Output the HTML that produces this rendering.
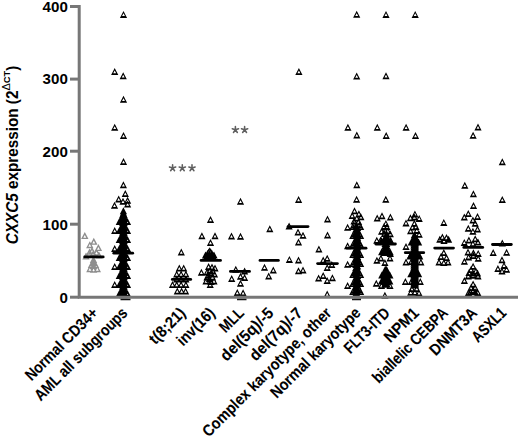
<!DOCTYPE html>
<html><head><meta charset="utf-8"><style>
html,body{margin:0;padding:0;background:#fff;}
body{width:520px;height:436px;overflow:hidden;}
svg{display:block;}
</style></head><body>
<svg width="520" height="436" viewBox="0 0 520 436">
<path fill="#8e8e8e" d="M84.80 232.00L81.10 239.00L88.50 239.00ZM84.80 234.89L86.26 237.65L83.34 237.65ZM93.80 237.80L90.10 244.80L97.50 244.80ZM93.80 240.69L95.26 243.45L92.34 243.45ZM89.80 241.20L86.10 248.20L93.50 248.20ZM89.80 244.09L91.26 246.85L88.34 246.85ZM98.40 244.00L94.70 251.00L102.10 251.00ZM98.40 246.89L99.86 249.65L96.94 249.65ZM92.00 247.00L88.30 254.00L95.70 254.00ZM92.00 249.89L93.46 252.65L90.54 252.65ZM89.50 248.50L85.80 255.50L93.20 255.50ZM89.50 251.39L90.96 254.15L88.04 254.15ZM96.50 248.50L92.80 255.50L100.20 255.50ZM96.50 251.39L97.96 254.15L95.04 254.15ZM93.50 249.50L89.80 256.50L97.20 256.50ZM93.50 252.39L94.96 255.15L92.04 255.15ZM86.00 252.50L82.30 259.50L89.70 259.50ZM86.00 255.39L87.46 258.15L84.54 258.15ZM99.00 251.50L95.30 258.50L102.70 258.50ZM99.00 254.39L100.46 257.15L97.54 257.15ZM93.50 256.00L89.80 263.00L97.20 263.00ZM93.50 258.89L94.96 261.65L92.04 261.65ZM93.50 259.00L89.80 266.00L97.20 266.00ZM93.50 261.89L94.96 264.65L92.04 264.65ZM93.50 262.00L89.80 269.00L97.20 269.00ZM93.50 264.89L94.96 267.65L92.04 267.65ZM91.50 261.00L87.80 268.00L95.20 268.00ZM91.50 263.89L92.96 266.65L90.04 266.65ZM95.50 261.00L91.80 268.00L99.20 268.00ZM95.50 263.89L96.96 266.65L94.04 266.65ZM89.90 265.20L86.20 272.20L93.60 272.20ZM89.90 268.09L91.36 270.85L88.44 270.85ZM97.30 265.20L93.60 272.20L101.00 272.20ZM97.30 268.09L98.76 270.85L95.84 270.85ZM93.60 265.70L89.90 272.70L97.30 272.70ZM93.60 268.59L95.06 271.35L92.14 271.35Z"/>
<path fill="#000" d="M123.40 207.20L119.80 214.20L127.00 214.20ZM123.40 209.20L119.80 216.20L127.00 216.20ZM123.40 211.20L119.80 218.20L127.00 218.20ZM122.60 211.20L119.00 218.20L126.20 218.20ZM124.20 211.20L120.60 218.20L127.80 218.20ZM123.40 213.20L119.80 220.20L127.00 220.20ZM122.60 213.20L119.00 220.20L126.20 220.20ZM124.20 213.20L120.60 220.20L127.80 220.20ZM123.40 215.20L119.80 222.20L127.00 222.20ZM122.60 215.20L119.00 222.20L126.20 222.20ZM124.20 215.20L120.60 222.20L127.80 222.20ZM123.40 217.20L119.80 224.20L127.00 224.20ZM122.60 217.20L119.00 224.20L126.20 224.20ZM124.20 217.20L120.60 224.20L127.80 224.20ZM123.40 219.20L119.80 226.20L127.00 226.20ZM122.60 219.20L119.00 226.20L126.20 226.20ZM124.20 219.20L120.60 226.20L127.80 226.20ZM123.40 221.20L119.80 228.20L127.00 228.20ZM122.60 221.20L119.00 228.20L126.20 228.20ZM124.20 221.20L120.60 228.20L127.80 228.20ZM123.40 223.20L119.80 230.20L127.00 230.20ZM122.60 223.20L119.00 230.20L126.20 230.20ZM124.20 223.20L120.60 230.20L127.80 230.20ZM123.40 225.20L119.80 232.20L127.00 232.20ZM122.60 225.20L119.00 232.20L126.20 232.20ZM124.20 225.20L120.60 232.20L127.80 232.20ZM123.40 227.20L119.80 234.20L127.00 234.20ZM122.60 227.20L119.00 234.20L126.20 234.20ZM124.20 227.20L120.60 234.20L127.80 234.20ZM123.40 229.20L119.80 236.20L127.00 236.20ZM122.60 229.20L119.00 236.20L126.20 236.20ZM124.20 229.20L120.60 236.20L127.80 236.20ZM123.40 231.20L119.80 238.20L127.00 238.20ZM122.60 231.20L119.00 238.20L126.20 238.20ZM124.20 231.20L120.60 238.20L127.80 238.20ZM123.40 233.20L119.80 240.20L127.00 240.20ZM122.60 233.20L119.00 240.20L126.20 240.20ZM124.20 233.20L120.60 240.20L127.80 240.20ZM123.40 235.20L119.80 242.20L127.00 242.20ZM122.60 235.20L119.00 242.20L126.20 242.20ZM124.20 235.20L120.60 242.20L127.80 242.20ZM123.40 237.20L119.80 244.20L127.00 244.20ZM122.60 237.20L119.00 244.20L126.20 244.20ZM124.20 237.20L120.60 244.20L127.80 244.20ZM123.40 239.20L119.80 246.20L127.00 246.20ZM122.60 239.20L119.00 246.20L126.20 246.20ZM124.20 239.20L120.60 246.20L127.80 246.20ZM123.40 241.20L119.80 248.20L127.00 248.20ZM122.60 241.20L119.00 248.20L126.20 248.20ZM124.20 241.20L120.60 248.20L127.80 248.20ZM123.40 243.20L119.80 250.20L127.00 250.20ZM122.60 243.20L119.00 250.20L126.20 250.20ZM124.20 243.20L120.60 250.20L127.80 250.20ZM123.40 245.20L119.80 252.20L127.00 252.20ZM122.60 245.20L119.00 252.20L126.20 252.20ZM124.20 245.20L120.60 252.20L127.80 252.20ZM123.40 247.20L119.80 254.20L127.00 254.20ZM122.60 247.20L119.00 254.20L126.20 254.20ZM124.20 247.20L120.60 254.20L127.80 254.20ZM123.40 249.20L119.80 256.20L127.00 256.20ZM122.60 249.20L119.00 256.20L126.20 256.20ZM124.20 249.20L120.60 256.20L127.80 256.20ZM123.40 251.20L119.80 258.20L127.00 258.20ZM122.60 251.20L119.00 258.20L126.20 258.20ZM124.20 251.20L120.60 258.20L127.80 258.20ZM123.40 253.20L119.80 260.20L127.00 260.20ZM122.60 253.20L119.00 260.20L126.20 260.20ZM124.20 253.20L120.60 260.20L127.80 260.20ZM123.40 255.20L119.80 262.20L127.00 262.20ZM122.60 255.20L119.00 262.20L126.20 262.20ZM124.20 255.20L120.60 262.20L127.80 262.20ZM123.40 257.20L119.80 264.20L127.00 264.20ZM122.60 257.20L119.00 264.20L126.20 264.20ZM124.20 257.20L120.60 264.20L127.80 264.20ZM123.40 259.20L119.80 266.20L127.00 266.20ZM122.60 259.20L119.00 266.20L126.20 266.20ZM124.20 259.20L120.60 266.20L127.80 266.20ZM123.40 261.20L119.80 268.20L127.00 268.20ZM122.60 261.20L119.00 268.20L126.20 268.20ZM124.20 261.20L120.60 268.20L127.80 268.20ZM123.40 263.20L119.80 270.20L127.00 270.20ZM122.60 263.20L119.00 270.20L126.20 270.20ZM124.20 263.20L120.60 270.20L127.80 270.20ZM123.40 265.20L119.80 272.20L127.00 272.20ZM122.60 265.20L119.00 272.20L126.20 272.20ZM124.20 265.20L120.60 272.20L127.80 272.20ZM123.40 267.20L119.80 274.20L127.00 274.20ZM122.60 267.20L119.00 274.20L126.20 274.20ZM124.20 267.20L120.60 274.20L127.80 274.20ZM123.40 269.20L119.80 276.20L127.00 276.20ZM122.60 269.20L119.00 276.20L126.20 276.20ZM124.20 269.20L120.60 276.20L127.80 276.20ZM123.40 271.20L119.80 278.20L127.00 278.20ZM122.60 271.20L119.00 278.20L126.20 278.20ZM124.20 271.20L120.60 278.20L127.80 278.20ZM123.40 273.20L119.80 280.20L127.00 280.20ZM122.60 273.20L119.00 280.20L126.20 280.20ZM124.20 273.20L120.60 280.20L127.80 280.20ZM123.40 275.20L119.80 282.20L127.00 282.20ZM122.60 275.20L119.00 282.20L126.20 282.20ZM124.20 275.20L120.60 282.20L127.80 282.20ZM123.40 277.20L119.80 284.20L127.00 284.20ZM122.60 277.20L119.00 284.20L126.20 284.20ZM124.20 277.20L120.60 284.20L127.80 284.20ZM123.40 279.20L119.80 286.20L127.00 286.20ZM122.60 279.20L119.00 286.20L126.20 286.20ZM124.20 279.20L120.60 286.20L127.80 286.20ZM123.40 281.20L119.80 288.20L127.00 288.20ZM122.60 281.20L119.00 288.20L126.20 288.20ZM124.20 281.20L120.60 288.20L127.80 288.20ZM123.40 283.20L119.80 290.20L127.00 290.20ZM122.60 283.20L119.00 290.20L126.20 290.20ZM124.20 283.20L120.60 290.20L127.80 290.20ZM123.40 285.20L119.80 292.20L127.00 292.20ZM122.60 285.20L119.00 292.20L126.20 292.20ZM124.20 285.20L120.60 292.20L127.80 292.20ZM123.40 287.20L119.80 294.20L127.00 294.20ZM122.60 287.20L119.00 294.20L126.20 294.20ZM124.20 287.20L120.60 294.20L127.80 294.20ZM123.40 289.20L119.80 296.20L127.00 296.20ZM122.60 289.20L119.00 296.20L126.20 296.20ZM124.20 289.20L120.60 296.20L127.80 296.20ZM123.40 291.20L119.80 298.20L127.00 298.20ZM122.60 291.20L119.00 298.20L126.20 298.20ZM124.20 291.20L120.60 298.20L127.80 298.20ZM119.30 218.00L115.70 225.00L122.90 225.00ZM119.30 227.00L115.70 234.00L122.90 234.00ZM119.30 236.00L115.70 243.00L122.90 243.00ZM119.30 245.00L115.70 252.00L122.90 252.00ZM119.30 254.00L115.70 261.00L122.90 261.00ZM119.30 263.00L115.70 270.00L122.90 270.00ZM119.30 272.00L115.70 279.00L122.90 279.00ZM119.30 281.00L115.70 288.00L122.90 288.00ZM119.30 290.00L115.70 297.00L122.90 297.00ZM385.90 234.00L382.30 241.00L389.50 241.00ZM385.10 234.00L381.50 241.00L388.70 241.00ZM386.70 234.00L383.10 241.00L390.30 241.00ZM385.90 236.00L382.30 243.00L389.50 243.00ZM385.10 236.00L381.50 243.00L388.70 243.00ZM386.70 236.00L383.10 243.00L390.30 243.00ZM385.90 238.00L382.30 245.00L389.50 245.00ZM385.10 238.00L381.50 245.00L388.70 245.00ZM386.70 238.00L383.10 245.00L390.30 245.00ZM385.90 240.00L382.30 247.00L389.50 247.00ZM385.10 240.00L381.50 247.00L388.70 247.00ZM386.70 240.00L383.10 247.00L390.30 247.00ZM385.90 242.00L382.30 249.00L389.50 249.00ZM385.10 242.00L381.50 249.00L388.70 249.00ZM386.70 242.00L383.10 249.00L390.30 249.00ZM385.90 244.00L382.30 251.00L389.50 251.00ZM385.10 244.00L381.50 251.00L388.70 251.00ZM386.70 244.00L383.10 251.00L390.30 251.00ZM385.90 246.00L382.30 253.00L389.50 253.00ZM385.10 246.00L381.50 253.00L388.70 253.00ZM386.70 246.00L383.10 253.00L390.30 253.00ZM385.90 248.00L382.30 255.00L389.50 255.00ZM385.10 248.00L381.50 255.00L388.70 255.00ZM386.70 248.00L383.10 255.00L390.30 255.00ZM385.90 266.00L382.30 273.00L389.50 273.00ZM385.10 266.00L381.50 273.00L388.70 273.00ZM386.70 266.00L383.10 273.00L390.30 273.00ZM385.90 268.00L382.30 275.00L389.50 275.00ZM385.10 268.00L381.50 275.00L388.70 275.00ZM386.70 268.00L383.10 275.00L390.30 275.00ZM385.90 270.00L382.30 277.00L389.50 277.00ZM385.10 270.00L381.50 277.00L388.70 277.00ZM386.70 270.00L383.10 277.00L390.30 277.00ZM385.90 272.00L382.30 279.00L389.50 279.00ZM385.10 272.00L381.50 279.00L388.70 279.00ZM386.70 272.00L383.10 279.00L390.30 279.00ZM385.90 274.00L382.30 281.00L389.50 281.00ZM385.10 274.00L381.50 281.00L388.70 281.00ZM386.70 274.00L383.10 281.00L390.30 281.00ZM385.90 276.00L382.30 283.00L389.50 283.00ZM385.10 276.00L381.50 283.00L388.70 283.00ZM386.70 276.00L383.10 283.00L390.30 283.00ZM385.90 278.00L382.30 285.00L389.50 285.00ZM385.10 278.00L381.50 285.00L388.70 285.00ZM386.70 278.00L383.10 285.00L390.30 285.00ZM385.90 280.00L382.30 287.00L389.50 287.00ZM385.10 280.00L381.50 287.00L388.70 287.00ZM386.70 280.00L383.10 287.00L390.30 287.00ZM381.50 237.00L377.90 244.00L385.10 244.00ZM390.20 237.00L386.60 244.00L393.80 244.00ZM381.70 248.20L378.10 255.20L385.30 255.20ZM390.10 248.20L386.50 255.20L393.70 255.20ZM381.80 271.60L378.20 278.60L385.40 278.60ZM389.90 271.60L386.30 278.60L393.50 278.60ZM381.50 277.50L377.90 284.50L385.10 284.50ZM389.80 277.50L386.20 284.50L393.40 284.50ZM414.70 233.50L411.10 240.50L418.30 240.50ZM413.90 233.50L410.30 240.50L417.50 240.50ZM415.50 233.50L411.90 240.50L419.10 240.50ZM414.70 235.50L411.10 242.50L418.30 242.50ZM413.90 235.50L410.30 242.50L417.50 242.50ZM415.50 235.50L411.90 242.50L419.10 242.50ZM414.70 237.50L411.10 244.50L418.30 244.50ZM413.90 237.50L410.30 244.50L417.50 244.50ZM415.50 237.50L411.90 244.50L419.10 244.50ZM414.70 239.50L411.10 246.50L418.30 246.50ZM413.90 239.50L410.30 246.50L417.50 246.50ZM415.50 239.50L411.90 246.50L419.10 246.50ZM414.70 241.50L411.10 248.50L418.30 248.50ZM413.90 241.50L410.30 248.50L417.50 248.50ZM415.50 241.50L411.90 248.50L419.10 248.50ZM414.70 243.50L411.10 250.50L418.30 250.50ZM413.90 243.50L410.30 250.50L417.50 250.50ZM415.50 243.50L411.90 250.50L419.10 250.50ZM414.70 245.50L411.10 252.50L418.30 252.50ZM413.90 245.50L410.30 252.50L417.50 252.50ZM415.50 245.50L411.90 252.50L419.10 252.50ZM414.70 247.50L411.10 254.50L418.30 254.50ZM413.90 247.50L410.30 254.50L417.50 254.50ZM415.50 247.50L411.90 254.50L419.10 254.50ZM414.70 249.50L411.10 256.50L418.30 256.50ZM413.90 249.50L410.30 256.50L417.50 256.50ZM415.50 249.50L411.90 256.50L419.10 256.50ZM414.70 251.50L411.10 258.50L418.30 258.50ZM413.90 251.50L410.30 258.50L417.50 258.50ZM415.50 251.50L411.90 258.50L419.10 258.50ZM414.70 253.50L411.10 260.50L418.30 260.50ZM413.90 253.50L410.30 260.50L417.50 260.50ZM415.50 253.50L411.90 260.50L419.10 260.50ZM414.70 255.50L411.10 262.50L418.30 262.50ZM413.90 255.50L410.30 262.50L417.50 262.50ZM415.50 255.50L411.90 262.50L419.10 262.50ZM414.70 257.50L411.10 264.50L418.30 264.50ZM413.90 257.50L410.30 264.50L417.50 264.50ZM415.50 257.50L411.90 264.50L419.10 264.50ZM414.70 259.50L411.10 266.50L418.30 266.50ZM413.90 259.50L410.30 266.50L417.50 266.50ZM415.50 259.50L411.90 266.50L419.10 266.50ZM414.70 261.50L411.10 268.50L418.30 268.50ZM413.90 261.50L410.30 268.50L417.50 268.50ZM415.50 261.50L411.90 268.50L419.10 268.50ZM414.70 263.50L411.10 270.50L418.30 270.50ZM413.90 263.50L410.30 270.50L417.50 270.50ZM415.50 263.50L411.90 270.50L419.10 270.50ZM414.70 265.50L411.10 272.50L418.30 272.50ZM413.90 265.50L410.30 272.50L417.50 272.50ZM415.50 265.50L411.90 272.50L419.10 272.50ZM414.70 267.50L411.10 274.50L418.30 274.50ZM413.90 267.50L410.30 274.50L417.50 274.50ZM415.50 267.50L411.90 274.50L419.10 274.50ZM414.70 269.50L411.10 276.50L418.30 276.50ZM413.90 269.50L410.30 276.50L417.50 276.50ZM415.50 269.50L411.90 276.50L419.10 276.50ZM414.70 271.50L411.10 278.50L418.30 278.50ZM413.90 271.50L410.30 278.50L417.50 278.50ZM415.50 271.50L411.90 278.50L419.10 278.50ZM414.70 273.50L411.10 280.50L418.30 280.50ZM413.90 273.50L410.30 280.50L417.50 280.50ZM415.50 273.50L411.90 280.50L419.10 280.50ZM414.70 275.50L411.10 282.50L418.30 282.50ZM413.90 275.50L410.30 282.50L417.50 282.50ZM415.50 275.50L411.90 282.50L419.10 282.50ZM414.70 277.50L411.10 284.50L418.30 284.50ZM413.90 277.50L410.30 284.50L417.50 284.50ZM415.50 277.50L411.90 284.50L419.10 284.50ZM414.70 279.50L411.10 286.50L418.30 286.50ZM413.90 279.50L410.30 286.50L417.50 286.50ZM415.50 279.50L411.90 286.50L419.10 286.50ZM414.70 281.50L411.10 288.50L418.30 288.50ZM413.90 281.50L410.30 288.50L417.50 288.50ZM415.50 281.50L411.90 288.50L419.10 288.50ZM411.30 238.50L407.70 245.50L414.90 245.50ZM418.60 238.50L415.00 245.50L422.20 245.50ZM410.90 251.10L407.30 258.10L414.50 258.10ZM418.50 251.10L414.90 258.10L422.10 258.10ZM410.90 270.20L407.30 277.20L414.50 277.20ZM418.60 270.20L415.00 277.20L422.20 277.20Z"/>
<path fill="#000" d="M123.50 10.90L119.90 17.90L127.10 17.90ZM123.50 13.35L124.95 16.10L122.05 16.10ZM114.70 68.00L111.10 75.00L118.30 75.00ZM114.70 70.45L116.15 73.20L113.25 73.20ZM123.20 72.30L119.60 79.30L126.80 79.30ZM123.20 74.75L124.65 77.50L121.75 77.50ZM123.50 95.70L119.90 102.70L127.10 102.70ZM123.50 98.15L124.95 100.90L122.05 100.90ZM114.70 123.70L111.10 130.70L118.30 130.70ZM114.70 126.15L116.15 128.90L113.25 128.90ZM123.50 132.00L119.90 139.00L127.10 139.00ZM123.50 134.45L124.95 137.20L122.05 137.20ZM123.50 158.10L119.90 165.10L127.10 165.10ZM123.50 160.55L124.95 163.30L122.05 163.30ZM123.40 181.30L119.80 188.30L127.00 188.30ZM123.40 183.75L124.85 186.50L121.95 186.50ZM125.30 190.00L121.70 197.00L128.90 197.00ZM125.30 192.45L126.75 195.20L123.85 195.20ZM118.70 195.50L115.10 202.50L122.30 202.50ZM118.70 197.95L120.15 200.70L117.25 200.70ZM127.60 196.70L124.00 203.70L131.20 203.70ZM127.60 199.15L129.05 201.90L126.15 201.90ZM123.00 197.80L119.40 204.80L126.60 204.80ZM123.00 200.25L124.45 203.00L121.55 203.00ZM114.50 201.80L110.90 208.80L118.10 208.80ZM114.50 204.25L115.95 207.00L113.05 207.00ZM127.60 200.50L124.00 207.50L131.20 207.50ZM127.60 202.95L129.05 205.70L126.15 205.70ZM114.70 227.00L111.10 234.00L118.30 234.00ZM114.70 229.45L116.15 232.20L113.25 232.20ZM114.70 245.00L111.10 252.00L118.30 252.00ZM114.70 247.45L116.15 250.20L113.25 250.20ZM114.70 263.00L111.10 270.00L118.30 270.00ZM114.70 265.45L116.15 268.20L113.25 268.20ZM114.70 281.00L111.10 288.00L118.30 288.00ZM114.70 283.45L116.15 286.20L113.25 286.20ZM181.30 248.50L177.70 255.50L184.90 255.50ZM181.30 250.95L182.75 253.70L179.85 253.70ZM179.30 264.50L175.70 271.50L182.90 271.50ZM179.30 266.95L180.75 269.70L177.85 269.70ZM183.70 264.50L180.10 271.50L187.30 271.50ZM183.70 266.95L185.15 269.70L182.25 269.70ZM176.70 270.50L173.10 277.50L180.30 277.50ZM176.70 272.95L178.15 275.70L175.25 275.70ZM181.10 270.50L177.50 277.50L184.70 277.50ZM181.10 272.95L182.55 275.70L179.65 275.70ZM185.90 270.50L182.30 277.50L189.50 277.50ZM185.90 272.95L187.35 275.70L184.45 275.70ZM176.70 275.50L173.10 282.50L180.30 282.50ZM176.70 277.95L178.15 280.70L175.25 280.70ZM185.90 275.50L182.30 282.50L189.50 282.50ZM185.90 277.95L187.35 280.70L184.45 280.70ZM181.10 275.50L177.50 282.50L184.70 282.50ZM181.10 277.95L182.55 280.70L179.65 280.70ZM172.50 281.00L168.90 288.00L176.10 288.00ZM172.50 283.45L173.95 286.20L171.05 286.20ZM176.70 281.00L173.10 288.00L180.30 288.00ZM176.70 283.45L178.15 286.20L175.25 286.20ZM181.10 281.00L177.50 288.00L184.70 288.00ZM181.10 283.45L182.55 286.20L179.65 286.20ZM185.90 281.00L182.30 288.00L189.50 288.00ZM185.90 283.45L187.35 286.20L184.45 286.20ZM177.30 287.50L173.70 294.50L180.90 294.50ZM177.30 289.95L178.75 292.70L175.85 292.70ZM181.60 287.50L178.00 294.50L185.20 294.50ZM181.60 289.95L183.05 292.70L180.15 292.70ZM185.60 287.50L182.00 294.50L189.20 294.50ZM185.60 289.95L187.05 292.70L184.15 292.70ZM210.50 216.10L206.90 223.10L214.10 223.10ZM210.50 218.55L211.95 221.30L209.05 221.30ZM201.90 232.20L198.30 239.20L205.50 239.20ZM201.90 234.65L203.35 237.40L200.45 237.40ZM215.00 232.20L211.40 239.20L218.60 239.20ZM215.00 234.65L216.45 237.40L213.55 237.40ZM210.50 239.00L206.90 246.00L214.10 246.00ZM210.50 241.45L211.95 244.20L209.05 244.20ZM209.70 247.20L206.10 254.20L213.30 254.20ZM209.70 249.65L211.15 252.40L208.25 252.40ZM207.50 250.00L203.90 257.00L211.10 257.00ZM207.50 252.45L208.95 255.20L206.05 255.20ZM212.00 250.00L208.40 257.00L215.60 257.00ZM212.00 252.45L213.45 255.20L210.55 255.20ZM205.50 251.50L201.90 258.50L209.10 258.50ZM205.50 253.95L206.95 256.70L204.05 256.70ZM214.00 251.50L210.40 258.50L217.60 258.50ZM214.00 253.95L215.45 256.70L212.55 256.70ZM209.70 251.50L206.10 258.50L213.30 258.50ZM209.70 253.95L211.15 256.70L208.25 256.70ZM208.60 248.50L205.00 255.50L212.20 255.50ZM208.60 250.95L210.05 253.70L207.15 253.70ZM210.80 248.50L207.20 255.50L214.40 255.50ZM210.80 250.95L212.25 253.70L209.35 253.70ZM207.00 252.00L203.40 259.00L210.60 259.00ZM207.00 254.45L208.45 257.20L205.55 257.20ZM212.50 252.00L208.90 259.00L216.10 259.00ZM212.50 254.45L213.95 257.20L211.05 257.20ZM209.70 250.50L206.10 257.50L213.30 257.50ZM209.70 252.95L211.15 255.70L208.25 255.70ZM208.60 263.00L205.00 270.00L212.20 270.00ZM208.60 265.45L210.05 268.20L207.15 268.20ZM212.00 263.50L208.40 270.50L215.60 270.50ZM212.00 265.95L213.45 268.70L210.55 268.70ZM215.00 264.50L211.40 271.50L218.60 271.50ZM215.00 266.95L216.45 269.70L213.55 269.70ZM201.40 268.70L197.80 275.70L205.00 275.70ZM201.40 271.15L202.85 273.90L199.95 273.90ZM207.00 268.50L203.40 275.50L210.60 275.50ZM207.00 270.95L208.45 273.70L205.55 273.70ZM211.00 269.50L207.40 276.50L214.60 276.50ZM211.00 271.95L212.45 274.70L209.55 274.70ZM214.50 270.50L210.90 277.50L218.10 277.50ZM214.50 272.95L215.95 275.70L213.05 275.70ZM210.00 266.50L206.40 273.50L213.60 273.50ZM210.00 268.95L211.45 271.70L208.55 271.70ZM213.00 267.50L209.40 274.50L216.60 274.50ZM213.00 269.95L214.45 272.70L211.55 272.70ZM207.00 273.50L203.40 280.50L210.60 280.50ZM207.00 275.95L208.45 278.70L205.55 278.70ZM212.50 273.50L208.90 280.50L216.10 280.50ZM212.50 275.95L213.95 278.70L211.05 278.70ZM206.00 277.50L202.40 284.50L209.60 284.50ZM206.00 279.95L207.45 282.70L204.55 282.70ZM211.00 278.00L207.40 285.00L214.60 285.00ZM211.00 280.45L212.45 283.20L209.55 283.20ZM214.00 277.50L210.40 284.50L217.60 284.50ZM214.00 279.95L215.45 282.70L212.55 282.70ZM210.20 281.10L206.60 288.10L213.80 288.10ZM210.20 283.55L211.65 286.30L208.75 286.30ZM209.50 275.00L205.90 282.00L213.10 282.00ZM209.50 277.45L210.95 280.20L208.05 280.20ZM208.00 271.50L204.40 278.50L211.60 278.50ZM208.00 273.95L209.45 276.70L206.55 276.70ZM240.50 197.70L236.90 204.70L244.10 204.70ZM240.50 200.15L241.95 202.90L239.05 202.90ZM231.50 232.60L227.90 239.60L235.10 239.60ZM231.50 235.05L232.95 237.80L230.05 237.80ZM240.50 232.80L236.90 239.80L244.10 239.80ZM240.50 235.25L241.95 238.00L239.05 238.00ZM235.80 265.80L232.20 272.80L239.40 272.80ZM235.80 268.25L237.25 271.00L234.35 271.00ZM244.60 267.40L241.00 274.40L248.20 274.40ZM244.60 269.85L246.05 272.60L243.15 272.60ZM240.50 272.80L236.90 279.80L244.10 279.80ZM240.50 275.25L241.95 278.00L239.05 278.00ZM244.60 274.00L241.00 281.00L248.20 281.00ZM244.60 276.45L246.05 279.20L243.15 279.20ZM231.70 275.00L228.10 282.00L235.30 282.00ZM231.70 277.45L233.15 280.20L230.25 280.20ZM240.50 279.70L236.90 286.70L244.10 286.70ZM240.50 282.15L241.95 284.90L239.05 284.90ZM237.30 289.00L233.70 296.00L240.90 296.00ZM237.30 291.45L238.75 294.20L235.85 294.20ZM243.10 289.30L239.50 296.30L246.70 296.30ZM243.10 291.75L244.55 294.50L241.65 294.50ZM269.80 225.20L266.20 232.20L273.40 232.20ZM269.80 227.65L271.25 230.40L268.35 230.40ZM264.50 263.70L260.90 270.70L268.10 270.70ZM264.50 266.15L265.95 268.90L263.05 268.90ZM273.30 266.50L269.70 273.50L276.90 273.50ZM273.30 268.95L274.75 271.70L271.85 271.70ZM268.70 272.50L265.10 279.50L272.30 279.50ZM268.70 274.95L270.15 277.70L267.25 277.70ZM298.90 68.00L295.30 75.00L302.50 75.00ZM298.90 70.45L300.35 73.20L297.45 73.20ZM298.60 196.00L295.00 203.00L302.20 203.00ZM298.60 198.45L300.05 201.20L297.15 201.20ZM289.10 222.60L285.50 229.60L292.70 229.60ZM289.10 225.05L290.55 227.80L287.65 227.80ZM298.00 228.50L294.40 235.50L301.60 235.50ZM298.00 230.95L299.45 233.70L296.55 233.70ZM303.00 231.80L299.40 238.80L306.60 238.80ZM303.00 234.25L304.45 237.00L301.55 237.00ZM298.50 238.50L294.90 245.50L302.10 245.50ZM298.50 240.95L299.95 243.70L297.05 243.70ZM289.40 255.90L285.80 262.90L293.00 262.90ZM289.40 258.35L290.85 261.10L287.95 261.10ZM298.50 256.50L294.90 263.50L302.10 263.50ZM298.50 258.95L299.95 261.70L297.05 261.70ZM298.50 267.30L294.90 274.30L302.10 274.30ZM298.50 269.75L299.95 272.50L297.05 272.50ZM303.00 266.50L299.40 273.50L306.60 273.50ZM303.00 268.95L304.45 271.70L301.55 271.70ZM327.50 215.60L323.90 222.60L331.10 222.60ZM327.50 218.05L328.95 220.80L326.05 220.80ZM327.50 231.50L323.90 238.50L331.10 238.50ZM327.50 233.95L328.95 236.70L326.05 236.70ZM318.90 245.50L315.30 252.50L322.50 252.50ZM318.90 247.95L320.35 250.70L317.45 250.70ZM323.20 256.50L319.60 263.50L326.80 263.50ZM323.20 258.95L324.65 261.70L321.75 261.70ZM327.20 254.80L323.60 261.80L330.80 261.80ZM327.20 257.25L328.65 260.00L325.75 260.00ZM331.80 261.00L328.20 268.00L335.40 268.00ZM331.80 263.45L333.25 266.20L330.35 266.20ZM327.20 264.00L323.60 271.00L330.80 271.00ZM327.20 266.45L328.65 269.20L325.75 269.20ZM323.20 272.00L319.60 279.00L326.80 279.00ZM323.20 274.45L324.65 277.20L321.75 277.20ZM318.60 274.50L315.00 281.50L322.20 281.50ZM318.60 276.95L320.05 279.70L317.15 279.70ZM327.20 277.00L323.60 284.00L330.80 284.00ZM327.20 279.45L328.65 282.20L325.75 282.20ZM332.40 274.30L328.80 281.30L336.00 281.30ZM332.40 276.75L333.85 279.50L330.95 279.50ZM327.20 290.50L323.60 297.50L330.80 297.50ZM327.20 292.95L328.65 295.70L325.75 295.70ZM356.70 10.70L353.10 17.70L360.30 17.70ZM356.70 13.15L358.15 15.90L355.25 15.90ZM356.70 72.60L353.10 79.60L360.30 79.60ZM356.70 75.05L358.15 77.80L355.25 77.80ZM347.90 123.70L344.30 130.70L351.50 130.70ZM347.90 126.15L349.35 128.90L346.45 128.90ZM356.80 131.50L353.20 138.50L360.40 138.50ZM356.80 133.95L358.25 136.70L355.35 136.70ZM356.80 181.20L353.20 188.20L360.40 188.20ZM356.80 183.65L358.25 186.40L355.35 186.40ZM356.60 195.70L353.00 202.70L360.20 202.70ZM356.60 198.15L358.05 200.90L355.15 200.90ZM354.50 207.30L350.90 214.30L358.10 214.30ZM354.50 209.75L355.95 212.50L353.05 212.50ZM358.90 210.30L355.30 217.30L362.50 217.30ZM358.90 212.75L360.35 215.50L357.45 215.50ZM352.20 212.00L348.60 219.00L355.80 219.00ZM352.20 214.45L353.65 217.20L350.75 217.20ZM360.90 213.30L357.30 220.30L364.50 220.30ZM360.90 215.75L362.35 218.50L359.45 218.50ZM356.80 214.50L353.20 221.50L360.40 221.50ZM356.80 216.95L358.25 219.70L355.35 219.70ZM354.00 217.50L350.40 224.50L357.60 224.50ZM354.00 219.95L355.45 222.70L352.55 222.70ZM358.60 218.00L355.00 225.00L362.20 225.00ZM358.60 220.45L360.05 223.20L357.15 223.20ZM355.80 222.50L352.20 229.50L359.40 229.50ZM355.80 224.95L357.25 227.70L354.35 227.70ZM357.60 224.10L354.00 231.10L361.20 231.10ZM357.60 226.55L359.05 229.30L356.15 229.30ZM355.80 225.70L352.20 232.70L359.40 232.70ZM355.80 228.15L357.25 230.90L354.35 230.90ZM357.60 227.30L354.00 234.30L361.20 234.30ZM357.60 229.75L359.05 232.50L356.15 232.50ZM355.80 228.90L352.20 235.90L359.40 235.90ZM355.80 231.35L357.25 234.10L354.35 234.10ZM357.60 230.50L354.00 237.50L361.20 237.50ZM357.60 232.95L359.05 235.70L356.15 235.70ZM355.80 232.10L352.20 239.10L359.40 239.10ZM355.80 234.55L357.25 237.30L354.35 237.30ZM357.60 233.70L354.00 240.70L361.20 240.70ZM357.60 236.15L359.05 238.90L356.15 238.90ZM355.80 235.30L352.20 242.30L359.40 242.30ZM355.80 237.75L357.25 240.50L354.35 240.50ZM357.60 236.90L354.00 243.90L361.20 243.90ZM357.60 239.35L359.05 242.10L356.15 242.10ZM355.80 238.50L352.20 245.50L359.40 245.50ZM355.80 240.95L357.25 243.70L354.35 243.70ZM357.60 240.10L354.00 247.10L361.20 247.10ZM357.60 242.55L359.05 245.30L356.15 245.30ZM355.80 241.70L352.20 248.70L359.40 248.70ZM355.80 244.15L357.25 246.90L354.35 246.90ZM357.60 243.30L354.00 250.30L361.20 250.30ZM357.60 245.75L359.05 248.50L356.15 248.50ZM355.80 244.90L352.20 251.90L359.40 251.90ZM355.80 247.35L357.25 250.10L354.35 250.10ZM357.60 246.50L354.00 253.50L361.20 253.50ZM357.60 248.95L359.05 251.70L356.15 251.70ZM355.80 248.10L352.20 255.10L359.40 255.10ZM355.80 250.55L357.25 253.30L354.35 253.30ZM357.60 249.70L354.00 256.70L361.20 256.70ZM357.60 252.15L359.05 254.90L356.15 254.90ZM355.80 251.30L352.20 258.30L359.40 258.30ZM355.80 253.75L357.25 256.50L354.35 256.50ZM357.60 252.90L354.00 259.90L361.20 259.90ZM357.60 255.35L359.05 258.10L356.15 258.10ZM355.80 254.50L352.20 261.50L359.40 261.50ZM355.80 256.95L357.25 259.70L354.35 259.70ZM357.60 256.10L354.00 263.10L361.20 263.10ZM357.60 258.55L359.05 261.30L356.15 261.30ZM355.80 257.70L352.20 264.70L359.40 264.70ZM355.80 260.15L357.25 262.90L354.35 262.90ZM357.60 259.30L354.00 266.30L361.20 266.30ZM357.60 261.75L359.05 264.50L356.15 264.50ZM355.80 260.90L352.20 267.90L359.40 267.90ZM355.80 263.35L357.25 266.10L354.35 266.10ZM357.60 262.50L354.00 269.50L361.20 269.50ZM357.60 264.95L359.05 267.70L356.15 267.70ZM355.80 264.10L352.20 271.10L359.40 271.10ZM355.80 266.55L357.25 269.30L354.35 269.30ZM357.60 265.70L354.00 272.70L361.20 272.70ZM357.60 268.15L359.05 270.90L356.15 270.90ZM355.80 267.30L352.20 274.30L359.40 274.30ZM355.80 269.75L357.25 272.50L354.35 272.50ZM357.60 268.90L354.00 275.90L361.20 275.90ZM357.60 271.35L359.05 274.10L356.15 274.10ZM355.80 270.50L352.20 277.50L359.40 277.50ZM355.80 272.95L357.25 275.70L354.35 275.70ZM357.60 272.10L354.00 279.10L361.20 279.10ZM357.60 274.55L359.05 277.30L356.15 277.30ZM355.80 273.70L352.20 280.70L359.40 280.70ZM355.80 276.15L357.25 278.90L354.35 278.90ZM357.60 275.30L354.00 282.30L361.20 282.30ZM357.60 277.75L359.05 280.50L356.15 280.50ZM355.80 276.90L352.20 283.90L359.40 283.90ZM355.80 279.35L357.25 282.10L354.35 282.10ZM357.60 278.50L354.00 285.50L361.20 285.50ZM357.60 280.95L359.05 283.70L356.15 283.70ZM355.80 280.10L352.20 287.10L359.40 287.10ZM355.80 282.55L357.25 285.30L354.35 285.30ZM357.60 281.70L354.00 288.70L361.20 288.70ZM357.60 284.15L359.05 286.90L356.15 286.90ZM355.80 283.30L352.20 290.30L359.40 290.30ZM355.80 285.75L357.25 288.50L354.35 288.50ZM357.60 284.90L354.00 291.90L361.20 291.90ZM357.60 287.35L359.05 290.10L356.15 290.10ZM355.80 286.50L352.20 293.50L359.40 293.50ZM355.80 288.95L357.25 291.70L354.35 291.70ZM357.60 288.10L354.00 295.10L361.20 295.10ZM357.60 290.55L359.05 293.30L356.15 293.30ZM355.80 289.70L352.20 296.70L359.40 296.70ZM355.80 292.15L357.25 294.90L354.35 294.90ZM357.60 291.30L354.00 298.30L361.20 298.30ZM357.60 293.75L359.05 296.50L356.15 296.50ZM352.80 223.00L349.20 230.00L356.40 230.00ZM352.80 225.45L354.25 228.20L351.35 228.20ZM360.60 223.00L357.00 230.00L364.20 230.00ZM360.60 225.45L362.05 228.20L359.15 228.20ZM353.80 221.00L350.20 228.00L357.40 228.00ZM353.80 223.45L355.25 226.20L352.35 226.20ZM359.60 221.00L356.00 228.00L363.20 228.00ZM359.60 223.45L361.05 226.20L358.15 226.20ZM352.80 232.00L349.20 239.00L356.40 239.00ZM352.80 234.45L354.25 237.20L351.35 237.20ZM360.60 232.00L357.00 239.00L364.20 239.00ZM360.60 234.45L362.05 237.20L359.15 237.20ZM353.80 230.00L350.20 237.00L357.40 237.00ZM353.80 232.45L355.25 235.20L352.35 235.20ZM359.60 230.00L356.00 237.00L363.20 237.00ZM359.60 232.45L361.05 235.20L358.15 235.20ZM352.80 241.00L349.20 248.00L356.40 248.00ZM352.80 243.45L354.25 246.20L351.35 246.20ZM360.60 241.00L357.00 248.00L364.20 248.00ZM360.60 243.45L362.05 246.20L359.15 246.20ZM353.80 239.00L350.20 246.00L357.40 246.00ZM353.80 241.45L355.25 244.20L352.35 244.20ZM359.60 239.00L356.00 246.00L363.20 246.00ZM359.60 241.45L361.05 244.20L358.15 244.20ZM352.80 251.00L349.20 258.00L356.40 258.00ZM352.80 253.45L354.25 256.20L351.35 256.20ZM360.60 251.00L357.00 258.00L364.20 258.00ZM360.60 253.45L362.05 256.20L359.15 256.20ZM353.80 249.00L350.20 256.00L357.40 256.00ZM353.80 251.45L355.25 254.20L352.35 254.20ZM359.60 249.00L356.00 256.00L363.20 256.00ZM359.60 251.45L361.05 254.20L358.15 254.20ZM352.80 260.00L349.20 267.00L356.40 267.00ZM352.80 262.45L354.25 265.20L351.35 265.20ZM360.60 260.00L357.00 267.00L364.20 267.00ZM360.60 262.45L362.05 265.20L359.15 265.20ZM353.80 258.00L350.20 265.00L357.40 265.00ZM353.80 260.45L355.25 263.20L352.35 263.20ZM359.60 258.00L356.00 265.00L363.20 265.00ZM359.60 260.45L361.05 263.20L358.15 263.20ZM352.80 271.00L349.20 278.00L356.40 278.00ZM352.80 273.45L354.25 276.20L351.35 276.20ZM360.60 271.00L357.00 278.00L364.20 278.00ZM360.60 273.45L362.05 276.20L359.15 276.20ZM353.80 269.00L350.20 276.00L357.40 276.00ZM353.80 271.45L355.25 274.20L352.35 274.20ZM359.60 269.00L356.00 276.00L363.20 276.00ZM359.60 271.45L361.05 274.20L358.15 274.20ZM352.80 280.00L349.20 287.00L356.40 287.00ZM352.80 282.45L354.25 285.20L351.35 285.20ZM360.60 280.00L357.00 287.00L364.20 287.00ZM360.60 282.45L362.05 285.20L359.15 285.20ZM353.80 278.00L350.20 285.00L357.40 285.00ZM353.80 280.45L355.25 283.20L352.35 283.20ZM359.60 278.00L356.00 285.00L363.20 285.00ZM359.60 280.45L361.05 283.20L358.15 283.20ZM352.80 288.00L349.20 295.00L356.40 295.00ZM352.80 290.45L354.25 293.20L351.35 293.20ZM360.60 288.00L357.00 295.00L364.20 295.00ZM360.60 290.45L362.05 293.20L359.15 293.20ZM353.80 286.00L350.20 293.00L357.40 293.00ZM353.80 288.45L355.25 291.20L352.35 291.20ZM359.60 286.00L356.00 293.00L363.20 293.00ZM359.60 288.45L361.05 291.20L358.15 291.20ZM347.60 223.80L344.00 230.80L351.20 230.80ZM347.60 226.25L349.05 229.00L346.15 229.00ZM347.60 242.20L344.00 249.20L351.20 249.20ZM347.60 244.65L349.05 247.40L346.15 247.40ZM347.60 260.80L344.00 267.80L351.20 267.80ZM347.60 263.25L349.05 266.00L346.15 266.00ZM347.60 282.00L344.00 289.00L351.20 289.00ZM347.60 284.45L349.05 287.20L346.15 287.20ZM386.00 10.90L382.40 17.90L389.60 17.90ZM386.00 13.35L387.45 16.10L384.55 16.10ZM386.00 72.30L382.40 79.30L389.60 79.30ZM386.00 74.75L387.45 77.50L384.55 77.50ZM377.30 123.80L373.70 130.80L380.90 130.80ZM377.30 126.25L378.75 129.00L375.85 129.00ZM386.20 132.10L382.60 139.10L389.80 139.10ZM386.20 134.55L387.65 137.30L384.75 137.30ZM385.80 195.80L382.20 202.80L389.40 202.80ZM385.80 198.25L387.25 201.00L384.35 201.00ZM377.20 214.50L373.60 221.50L380.80 221.50ZM377.20 216.95L378.65 219.70L375.75 219.70ZM382.00 212.20L378.40 219.20L385.60 219.20ZM382.00 214.65L383.45 217.40L380.55 217.40ZM390.40 213.50L386.80 220.50L394.00 220.50ZM390.40 215.95L391.85 218.70L388.95 218.70ZM385.90 219.90L382.30 226.90L389.50 226.90ZM385.90 222.35L387.35 225.10L384.45 225.10ZM384.00 222.90L380.40 229.90L387.60 229.90ZM384.00 225.35L385.45 228.10L382.55 228.10ZM386.90 222.90L383.30 229.90L390.50 229.90ZM386.90 225.35L388.35 228.10L385.45 228.10ZM381.60 227.80L378.00 234.80L385.20 234.80ZM381.60 230.25L383.05 233.00L380.15 233.00ZM387.80 227.30L384.20 234.30L391.40 234.30ZM387.80 229.75L389.25 232.50L386.35 232.50ZM390.30 230.20L386.70 237.20L393.90 237.20ZM390.30 232.65L391.75 235.40L388.85 235.40ZM385.00 227.00L381.40 234.00L388.60 234.00ZM385.00 229.45L386.45 232.20L383.55 232.20ZM384.50 230.00L380.90 237.00L388.10 237.00ZM384.50 232.45L385.95 235.20L383.05 235.20ZM386.50 231.50L382.90 238.50L390.10 238.50ZM386.50 233.95L387.95 236.70L385.05 236.70ZM376.80 236.80L373.20 243.80L380.40 243.80ZM376.80 239.25L378.25 242.00L375.35 242.00ZM380.60 236.50L377.00 243.50L384.20 243.50ZM380.60 238.95L382.05 241.70L379.15 241.70ZM384.50 236.00L380.90 243.00L388.10 243.00ZM384.50 238.45L385.95 241.20L383.05 241.20ZM387.80 236.00L384.20 243.00L391.40 243.00ZM387.80 238.45L389.25 241.20L386.35 241.20ZM390.70 236.90L387.10 243.90L394.30 243.90ZM390.70 239.35L392.15 242.10L389.25 242.10ZM384.50 249.00L380.90 256.00L388.10 256.00ZM384.50 251.45L385.95 254.20L383.05 254.20ZM390.30 249.90L386.70 256.90L393.90 256.90ZM390.30 252.35L391.75 255.10L388.85 255.10ZM376.90 256.80L373.30 263.80L380.50 263.80ZM376.90 259.25L378.35 262.00L375.45 262.00ZM380.90 254.50L377.30 261.50L384.50 261.50ZM380.90 256.95L382.35 259.70L379.45 259.70ZM390.00 254.50L386.40 261.50L393.60 261.50ZM390.00 256.95L391.45 259.70L388.55 259.70ZM384.90 259.00L381.30 266.00L388.50 266.00ZM384.90 261.45L386.35 264.20L383.45 264.20ZM376.30 279.70L372.70 286.70L379.90 286.70ZM376.30 282.15L377.75 284.90L374.85 284.90ZM381.50 282.00L377.90 289.00L385.10 289.00ZM381.50 284.45L382.95 287.20L380.05 287.20ZM385.50 280.80L381.90 287.80L389.10 287.80ZM385.50 283.25L386.95 286.00L384.05 286.00ZM390.00 282.00L386.40 289.00L393.60 289.00ZM390.00 284.45L391.45 287.20L388.55 287.20ZM384.90 291.80L381.30 298.80L388.50 298.80ZM384.90 294.25L386.35 297.00L383.45 297.00ZM415.20 10.90L411.60 17.90L418.80 17.90ZM415.20 13.35L416.65 16.10L413.75 16.10ZM406.10 123.80L402.50 130.80L409.70 130.80ZM406.10 126.25L407.55 129.00L404.65 129.00ZM415.50 132.10L411.90 139.10L419.10 139.10ZM415.50 134.55L416.95 137.30L414.05 137.30ZM414.90 210.40L411.30 217.40L418.50 217.40ZM414.90 212.85L416.35 215.60L413.45 215.60ZM410.40 214.30L406.80 221.30L414.00 221.30ZM410.40 216.75L411.85 219.50L408.95 219.50ZM419.20 214.90L415.60 221.90L422.80 221.90ZM419.20 217.35L420.65 220.10L417.75 220.10ZM414.40 213.50L410.80 220.50L418.00 220.50ZM414.40 215.95L415.85 218.70L412.95 218.70ZM406.00 219.40L402.40 226.40L409.60 226.40ZM406.00 221.85L407.45 224.60L404.55 224.60ZM414.40 219.70L410.80 226.70L418.00 226.70ZM414.40 222.15L415.85 224.90L412.95 224.90ZM412.50 223.50L408.90 230.50L416.10 230.50ZM412.50 225.95L413.95 228.70L411.05 228.70ZM415.90 223.00L412.30 230.00L419.50 230.00ZM415.90 225.45L417.35 228.20L414.45 228.20ZM410.60 227.30L407.00 234.30L414.20 234.30ZM410.60 229.75L412.05 232.50L409.15 232.50ZM416.80 226.90L413.20 233.90L420.40 233.90ZM416.80 229.35L418.25 232.10L415.35 232.10ZM414.40 231.20L410.80 238.20L418.00 238.20ZM414.40 233.65L415.85 236.40L412.95 236.40ZM419.20 230.70L415.60 237.70L422.80 237.70ZM419.20 233.15L420.65 235.90L417.75 235.90ZM406.00 243.00L402.40 250.00L409.60 250.00ZM406.00 245.45L407.45 248.20L404.55 248.20ZM410.10 252.50L406.50 259.50L413.70 259.50ZM410.10 254.95L411.55 257.70L408.65 257.70ZM419.70 252.50L416.10 259.50L423.30 259.50ZM419.70 254.95L421.15 257.70L418.25 257.70ZM406.00 258.50L402.40 265.50L409.60 265.50ZM406.00 260.95L407.45 263.70L404.55 263.70ZM411.30 258.00L407.70 265.00L414.90 265.00ZM411.30 260.45L412.75 263.20L409.85 263.20ZM420.90 258.50L417.30 265.50L424.50 265.50ZM420.90 260.95L422.35 263.70L419.45 263.70ZM405.40 278.00L401.80 285.00L409.00 285.00ZM405.40 280.45L406.85 283.20L403.95 283.20ZM411.30 278.00L407.70 285.00L414.90 285.00ZM411.30 280.45L412.75 283.20L409.85 283.20ZM420.30 278.00L416.70 285.00L423.90 285.00ZM420.30 280.45L421.75 283.20L418.85 283.20ZM411.90 285.10L408.30 292.10L415.50 292.10ZM411.90 287.55L413.35 290.30L410.45 290.30ZM416.70 285.10L413.10 292.10L420.30 292.10ZM416.70 287.55L418.15 290.30L415.25 290.30ZM410.70 288.70L407.10 295.70L414.30 295.70ZM410.70 291.15L412.15 293.90L409.25 293.90ZM414.90 288.70L411.30 295.70L418.50 295.70ZM414.90 291.15L416.35 293.90L413.45 293.90ZM419.00 289.30L415.40 296.30L422.60 296.30ZM419.00 291.75L420.45 294.50L417.55 294.50ZM443.80 218.90L440.20 225.90L447.40 225.90ZM443.80 221.35L445.25 224.10L442.35 224.10ZM442.40 233.60L438.80 240.60L446.00 240.60ZM442.40 236.05L443.85 238.80L440.95 238.80ZM446.50 234.00L442.90 241.00L450.10 241.00ZM446.50 236.45L447.95 239.20L445.05 239.20ZM439.80 235.80L436.20 242.80L443.40 242.80ZM439.80 238.25L441.25 241.00L438.35 241.00ZM448.60 235.80L445.00 242.80L452.20 242.80ZM448.60 238.25L450.05 241.00L447.15 241.00ZM444.00 237.00L440.40 244.00L447.60 244.00ZM444.00 239.45L445.45 242.20L442.55 242.20ZM443.80 249.00L440.20 256.00L447.40 256.00ZM443.80 251.45L445.25 254.20L442.35 254.20ZM441.00 253.00L437.40 260.00L444.60 260.00ZM441.00 255.45L442.45 258.20L439.55 258.20ZM446.50 254.00L442.90 261.00L450.10 261.00ZM446.50 256.45L447.95 259.20L445.05 259.20ZM439.00 258.50L435.40 265.50L442.60 265.50ZM439.00 260.95L440.45 263.70L437.55 263.70ZM443.80 259.00L440.20 266.00L447.40 266.00ZM443.80 261.45L445.25 264.20L442.35 264.20ZM448.00 258.50L444.40 265.50L451.60 265.50ZM448.00 260.95L449.45 263.70L446.55 263.70ZM478.00 123.50L474.40 130.50L481.60 130.50ZM478.00 125.95L479.45 128.70L476.55 128.70ZM473.10 131.80L469.50 138.80L476.70 138.80ZM473.10 134.25L474.55 137.00L471.65 137.00ZM464.80 181.70L461.20 188.70L468.40 188.70ZM464.80 184.15L466.25 186.90L463.35 186.90ZM473.40 190.20L469.80 197.20L477.00 197.20ZM473.40 192.65L474.85 195.40L471.95 195.40ZM473.50 202.00L469.90 209.00L477.10 209.00ZM473.50 204.45L474.95 207.20L472.05 207.20ZM468.30 210.00L464.70 217.00L471.90 217.00ZM468.30 212.45L469.75 215.20L466.85 215.20ZM464.30 213.50L460.70 220.50L467.90 220.50ZM464.30 215.95L465.75 218.70L462.85 218.70ZM477.50 213.10L473.90 220.10L481.10 220.10ZM477.50 215.55L478.95 218.30L476.05 218.30ZM472.90 216.50L469.30 223.50L476.50 223.50ZM472.90 218.95L474.35 221.70L471.45 221.70ZM475.20 219.70L471.60 226.70L478.80 226.70ZM475.20 222.15L476.65 224.90L473.75 224.90ZM468.30 224.80L464.70 231.80L471.90 231.80ZM468.30 227.25L469.75 230.00L466.85 230.00ZM477.50 225.50L473.90 232.50L481.10 232.50ZM477.50 227.95L478.95 230.70L476.05 230.70ZM472.90 227.70L469.30 234.70L476.50 234.70ZM472.90 230.15L474.35 232.90L471.45 232.90ZM475.20 235.20L471.60 242.20L478.80 242.20ZM475.20 237.65L476.65 240.40L473.75 240.40ZM468.90 236.50L465.30 243.50L472.50 243.50ZM468.90 238.95L470.35 241.70L467.45 241.70ZM464.30 238.90L460.70 245.90L467.90 245.90ZM464.30 241.35L465.75 244.10L462.85 244.10ZM472.90 240.00L469.30 247.00L476.50 247.00ZM472.90 242.45L474.35 245.20L471.45 245.20ZM478.00 238.50L474.40 245.50L481.60 245.50ZM478.00 240.95L479.45 243.70L476.55 243.70ZM468.00 248.50L464.40 255.50L471.60 255.50ZM468.00 250.95L469.45 253.70L466.55 253.70ZM473.40 249.20L469.80 256.20L477.00 256.20ZM473.40 251.65L474.85 254.40L471.95 254.40ZM478.20 249.90L474.60 256.90L481.80 256.90ZM478.20 252.35L479.65 255.10L476.75 255.10ZM468.60 253.40L465.00 260.40L472.20 260.40ZM468.60 255.85L470.05 258.60L467.15 258.60ZM473.40 252.00L469.80 259.00L477.00 259.00ZM473.40 254.45L474.85 257.20L471.95 257.20ZM478.20 254.70L474.60 261.70L481.80 261.70ZM478.20 257.15L479.65 259.90L476.75 259.90ZM464.40 257.80L460.80 264.80L468.00 264.80ZM464.40 260.25L465.85 263.00L462.95 263.00ZM464.40 277.00L460.80 284.00L468.00 284.00ZM464.40 279.45L465.85 282.20L462.95 282.20ZM473.10 262.70L469.50 269.70L476.70 269.70ZM473.10 265.15L474.55 267.90L471.65 267.90ZM471.00 266.00L467.40 273.00L474.60 273.00ZM471.00 268.45L472.45 271.20L469.55 271.20ZM475.90 267.50L472.30 274.50L479.50 274.50ZM475.90 269.95L477.35 272.70L474.45 272.70ZM469.00 269.00L465.40 276.00L472.60 276.00ZM469.00 271.45L470.45 274.20L467.55 274.20ZM473.10 269.50L469.50 276.50L476.70 276.50ZM473.10 271.95L474.55 274.70L471.65 274.70ZM477.50 269.50L473.90 276.50L481.10 276.50ZM477.50 271.95L478.95 274.70L476.05 274.70ZM468.30 272.40L464.70 279.40L471.90 279.40ZM468.30 274.85L469.75 277.60L466.85 277.60ZM473.10 271.80L469.50 278.80L476.70 278.80ZM473.10 274.25L474.55 277.00L471.65 277.00ZM478.00 272.40L474.40 279.40L481.60 279.40ZM478.00 274.85L479.45 277.60L476.55 277.60ZM473.10 280.60L469.50 287.60L476.70 287.60ZM473.10 283.05L474.55 285.80L471.65 285.80ZM471.00 284.10L467.40 291.10L474.60 291.10ZM471.00 286.55L472.45 289.30L469.55 289.30ZM475.20 284.10L471.60 291.10L478.80 291.10ZM475.20 286.55L476.65 289.30L473.75 289.30ZM470.40 288.30L466.80 295.30L474.00 295.30ZM470.40 290.75L471.85 293.50L468.95 293.50ZM475.20 288.30L471.60 295.30L478.80 295.30ZM475.20 290.75L476.65 293.50L473.75 293.50ZM473.10 286.50L469.50 293.50L476.70 293.50ZM473.10 288.95L474.55 291.70L471.65 291.70ZM468.50 289.00L464.90 296.00L472.10 296.00ZM468.50 291.45L469.95 294.20L467.05 294.20ZM477.80 289.00L474.20 296.00L481.40 296.00ZM477.80 291.45L479.25 294.20L476.35 294.20ZM502.30 158.20L498.70 165.20L505.90 165.20ZM502.30 160.65L503.75 163.40L500.85 163.40ZM502.30 196.00L498.70 203.00L505.90 203.00ZM502.30 198.45L503.75 201.20L500.85 201.20ZM502.30 239.50L498.70 246.50L505.90 246.50ZM502.30 241.95L503.75 244.70L500.85 244.70ZM493.20 249.00L489.60 256.00L496.80 256.00ZM493.20 251.45L494.65 254.20L491.75 254.20ZM506.60 248.80L503.00 255.80L510.20 255.80ZM506.60 251.25L508.05 254.00L505.15 254.00ZM502.00 256.30L498.40 263.30L505.60 263.30ZM502.00 258.75L503.45 261.50L500.55 261.50ZM504.00 261.90L500.40 268.90L507.60 268.90ZM504.00 264.35L505.45 267.10L502.55 267.10ZM497.90 265.00L494.30 272.00L501.50 272.00ZM497.90 267.45L499.35 270.20L496.45 270.20ZM506.60 265.80L503.00 272.80L510.20 272.80ZM506.60 268.25L508.05 271.00L505.15 271.00ZM502.00 267.60L498.40 274.60L505.60 274.60ZM502.00 270.05L503.45 272.80L500.55 272.80Z"/>
<path fill="#000" d="M127.50 218.00L123.90 225.00L131.10 225.00ZM127.50 221.50L128.30 223.10L126.70 223.10ZM127.50 227.00L123.90 234.00L131.10 234.00ZM127.50 230.50L128.30 232.10L126.70 232.10ZM127.50 236.00L123.90 243.00L131.10 243.00ZM127.50 239.50L128.30 241.10L126.70 241.10ZM127.50 245.00L123.90 252.00L131.10 252.00ZM127.50 248.50L128.30 250.10L126.70 250.10ZM127.50 254.00L123.90 261.00L131.10 261.00ZM127.50 257.50L128.30 259.10L126.70 259.10ZM127.50 263.00L123.90 270.00L131.10 270.00ZM127.50 266.50L128.30 268.10L126.70 268.10ZM127.50 272.00L123.90 279.00L131.10 279.00ZM127.50 275.50L128.30 277.10L126.70 277.10ZM127.50 281.00L123.90 288.00L131.10 288.00ZM127.50 284.50L128.30 286.10L126.70 286.10ZM127.50 290.00L123.90 297.00L131.10 297.00ZM127.50 293.50L128.30 295.10L126.70 295.10Z"/>
<g stroke="#000" stroke-width="2.8" stroke-linecap="round">
<line x1="84.7" y1="256.9" x2="103.2" y2="256.9"/>
<line x1="113.8" y1="253.2" x2="132.7" y2="253.2"/>
<line x1="172.3" y1="279.4" x2="190.7" y2="279.4"/>
<line x1="201.1" y1="260.4" x2="220.5" y2="260.4"/>
<line x1="230.4" y1="271.4" x2="249.5" y2="271.4"/>
<line x1="260.0" y1="260.4" x2="278.4" y2="260.4"/>
<line x1="288.1" y1="226.6" x2="308.0" y2="226.6"/>
<line x1="317.6" y1="263.6" x2="337.4" y2="263.6"/>
<line x1="346.8" y1="248.2" x2="366.0" y2="248.2"/>
<line x1="375.8" y1="244.0" x2="395.4" y2="244.0"/>
<line x1="405.3" y1="252.7" x2="423.7" y2="252.7"/>
<line x1="434.7" y1="248.1" x2="453.5" y2="248.1"/>
<line x1="463.8" y1="247.4" x2="482.7" y2="247.4"/>
<line x1="492.5" y1="244.5" x2="511.3" y2="244.5"/>
</g>
<path d="M120.5 299.3H130.5M237 299.4H246.5M352 299.4H361" stroke="#111" stroke-width="1.8"/>
<g stroke="#777" stroke-width="3" fill="none">
<path d="M70 6.5H79.2V297.2H518"/>
<path d="M70 79.1H79"/>
<path d="M70 151.2H79"/>
<path d="M70 224.2H79"/>
<path d="M70 297.2H79"/>
</g>
<g font-family="Liberation Sans" font-weight="bold" font-size="14.2" text-anchor="end" fill="#000">
<text x="67.8" y="11.8" textLength="25.2" lengthAdjust="spacingAndGlyphs">400</text>
<text x="67.8" y="84.4" textLength="25.2" lengthAdjust="spacingAndGlyphs">300</text>
<text x="67.8" y="156.5" textLength="25.2" lengthAdjust="spacingAndGlyphs">200</text>
<text x="67.8" y="229.5" textLength="25.2" lengthAdjust="spacingAndGlyphs">100</text>
<text x="67.8" y="302.5" textLength="8.4" lengthAdjust="spacingAndGlyphs">0</text>
</g>
<text transform="translate(17.8,244.2) rotate(-90)" font-family="Liberation Sans" font-weight="bold" font-size="16" fill="#000" textLength="178.5" lengthAdjust="spacingAndGlyphs"><tspan font-style="italic">CXXC5</tspan> expression (2<tspan font-size="9.8" dy="-8.2"><tspan font-weight="normal" font-size="11.5">Δ</tspan>CT</tspan><tspan dy="8.2">)</tspan></text>
<path d="M172.60 168.00L172.60 164.70M172.60 168.00L175.74 166.98M172.60 168.00L174.54 170.67M172.60 168.00L170.66 170.67M172.60 168.00L169.46 166.98M182.30 168.00L182.30 164.70M182.30 168.00L185.44 166.98M182.30 168.00L184.24 170.67M182.30 168.00L180.36 170.67M182.30 168.00L179.16 166.98M192.00 168.00L192.00 164.70M192.00 168.00L195.14 166.98M192.00 168.00L193.94 170.67M192.00 168.00L190.06 170.67M192.00 168.00L188.86 166.98M235.40 129.80L235.40 126.50M235.40 129.80L238.54 128.78M235.40 129.80L237.34 132.47M235.40 129.80L233.46 132.47M235.40 129.80L232.26 128.78M244.60 129.80L244.60 126.50M244.60 129.80L247.74 128.78M244.60 129.80L246.54 132.47M244.60 129.80L242.66 132.47M244.60 129.80L241.46 128.78" stroke="#606060" stroke-width="1.55" stroke-linecap="round" fill="none"/>
<g font-family="Liberation Sans" font-weight="bold" font-size="16" text-anchor="end" fill="#000" stroke="#000" stroke-width="0.1">
<text transform="translate(99.0,314.0) rotate(-45)" textLength="95.6" lengthAdjust="spacingAndGlyphs">Normal CD34+</text>
<text transform="translate(128.5,314.0) rotate(-45)" textLength="124.1" lengthAdjust="spacingAndGlyphs">AML all subgroups</text>
<text transform="translate(186.5,314.0) rotate(-45)" textLength="44.1" lengthAdjust="spacingAndGlyphs">t(8;21)</text>
<text transform="translate(215.8,314.0) rotate(-45)" textLength="46.3" lengthAdjust="spacingAndGlyphs">inv(16)</text>
<text transform="translate(245.0,314.0) rotate(-45)" textLength="27.6" lengthAdjust="spacingAndGlyphs">MLL</text>
<text transform="translate(274.5,314.0) rotate(-45)" textLength="67.8" lengthAdjust="spacingAndGlyphs">del(5q)/-5</text>
<text transform="translate(303.5,314.0) rotate(-45)" textLength="67.5" lengthAdjust="spacingAndGlyphs">del(7q)/-7</text>
<text transform="translate(332.5,314.0) rotate(-45)" textLength="174.9" lengthAdjust="spacingAndGlyphs">Complex karyotype, other</text>
<text transform="translate(361.7,314.0) rotate(-45)" textLength="120.3" lengthAdjust="spacingAndGlyphs">Normal karyotype</text>
<text transform="translate(390.8,314.0) rotate(-45)" textLength="57.4" lengthAdjust="spacingAndGlyphs">FLT3-ITD</text>
<text transform="translate(419.8,314.0) rotate(-45)" textLength="41.7" lengthAdjust="spacingAndGlyphs">NPM1</text>
<text transform="translate(448.8,314.0) rotate(-45)" textLength="99.1" lengthAdjust="spacingAndGlyphs">biallelic CEBPA</text>
<text transform="translate(478.2,314.0) rotate(-45)" textLength="60.0" lengthAdjust="spacingAndGlyphs">DNMT3A</text>
<text transform="translate(507.3,314.0) rotate(-45)" textLength="41.3" lengthAdjust="spacingAndGlyphs">ASXL1</text>
</g>
</svg>
</body></html>
